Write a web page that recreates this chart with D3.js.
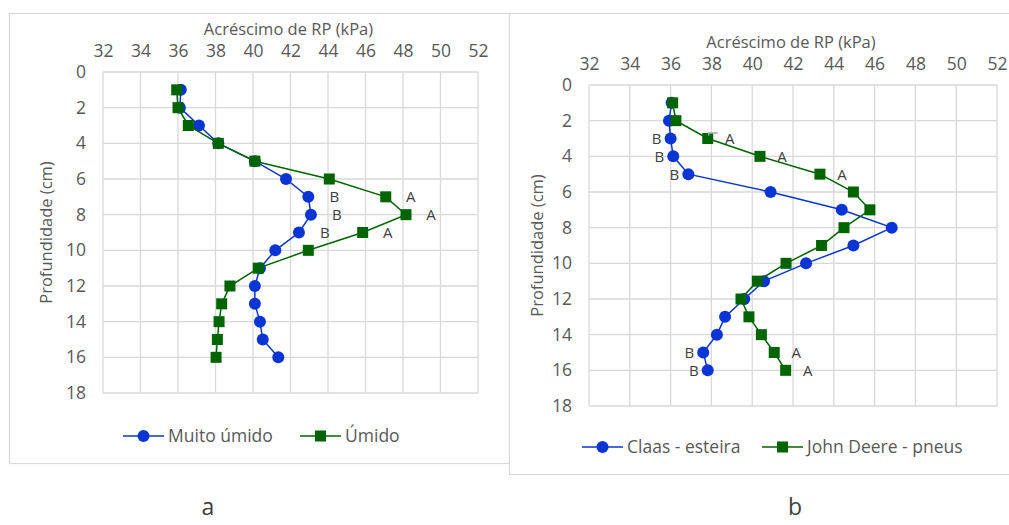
<!DOCTYPE html>
<html>
<head>
<meta charset="utf-8">
<script src="https://cdn.jsdelivr.net/npm/d3@7"></script>
<style>
  html, body { margin: 0; padding: 0; background: #fff; }
  svg { display: block; }
  text { font-family: "Open Sans", "Noto Sans", sans-serif; }
</style>
</head>
<body>
<svg id="chart" width="1009" height="525"></svg>
<script>
// Depths (cm) sampled in both profiles
const depths = [1, 2, 3, 4, 5, 6, 7, 8, 9, 10, 11, 12, 13, 14, 15, 16];

// Panel a: soil moisture condition
const muitoUmido = [36.15, 36.1, 37.12, 38.15, 40.1, 41.76, 42.95, 43.09, 42.45, 41.19, 40.37, 40.1, 40.1, 40.37, 40.52, 41.35];
const umido      = [35.93, 36.0, 36.55, 38.15, 40.1, 44.07, 47.08, 48.16, 45.85, 42.95, 40.28, 38.77, 38.33, 38.19, 38.1, 38.03];

// Panel b: machine type
const claasEsteira = [36.05, 35.92, 36.0, 36.13, 36.87, 40.9, 44.39, 46.84, 44.96, 42.64, 40.58, 39.61, 38.67, 38.27, 37.6, 37.82];
const johnDeere    = [36.1, 36.26, 37.82, 40.38, 43.32, 44.96, 45.77, 44.5, 43.4, 41.66, 40.25, 39.45, 39.84, 40.45, 41.08, 41.64];

// Significance letters (depth, letter)
const lettersMuito = [[7, "B"], [8, "B"], [9, "B"]];
const lettersUmido = [[7, "A"], [8, "A"], [9, "A"]];
const lettersClaas = [[3, "B"], [4, "B"], [5, "B"], [15, "B"], [16, "B"]];
const lettersJD    = [[3, "A"], [4, "A"], [5, "A"], [15, "A"], [16, "A"]];

// Axis ticks
const xTicks = [32, 34, 36, 38, 40, 42, 44, 46, 48, 50, 52];
const yTicks = [0, 2, 4, 6, 8, 10, 12, 14, 16, 18];

const xTitle = "Acréscimo de RP  (kPa)";
const yTitle = "Profundidade (cm)";

const BLUE = "#0a35d4";
const GREEN = "#006400";
const GRID = "#d9d9d9";
const TEXT = "#595959";

const svg = d3.select("#chart");

function drawPanel(cfg) {
  const g = svg.append("g");

  // Chart frame
  g.append("rect")
    .attr("x", cfg.box[0] + 0.5).attr("y", cfg.box[1] + 0.5)
    .attr("width", cfg.box[2]).attr("height", cfg.box[3])
    .attr("fill", "none").attr("stroke", GRID).attr("stroke-width", 1.2);

  const x = d3.scaleLinear().domain([32, 52]).range([cfg.left, cfg.right]);
  const y = d3.scaleLinear().domain([0, 18]).range([cfg.top, cfg.bottom]);

  // Gridlines
  g.append("g").selectAll("line").data(xTicks).join("line")
    .attr("x1", d => x(d)).attr("x2", d => x(d))
    .attr("y1", cfg.top).attr("y2", cfg.bottom)
    .attr("stroke", GRID).attr("stroke-width", 1.3);
  g.append("g").selectAll("line").data(yTicks).join("line")
    .attr("x1", cfg.left).attr("x2", cfg.right)
    .attr("y1", d => y(d)).attr("y2", d => y(d))
    .attr("stroke", GRID).attr("stroke-width", 1.3);

  // Top x axis (labels only)
  const xAxis = g.append("g")
    .attr("transform", `translate(0,${cfg.top - 15})`)
    .call(d3.axisTop(x).tickValues(xTicks).tickSize(0).tickPadding(0));
  xAxis.select(".domain").remove();
  xAxis.selectAll("text").attr("fill", TEXT).style("font-size", "17.5px")
    .style("font-family", "'Open Sans', sans-serif");

  // Left y axis (labels only)
  const yAxis = g.append("g")
    .attr("transform", `translate(${cfg.left - 17},0)`)
    .call(d3.axisLeft(y).tickValues(yTicks).tickSize(0).tickPadding(0));
  yAxis.select(".domain").remove();
  yAxis.selectAll("text").attr("fill", TEXT).style("font-size", "17.5px")
    .style("font-family", "'Open Sans', sans-serif");

  // Axis titles
  g.append("text")
    .attr("x", (cfg.left + cfg.right) / 2 - 2).attr("y", cfg.top - 37)
    .attr("text-anchor", "middle").attr("fill", TEXT)
    .style("font-size", "16.5px").text(xTitle);
  g.append("text")
    .attr("transform", `translate(${cfg.yTitleX},${(cfg.top + cfg.bottom) / 2}) rotate(-90)`)
    .attr("text-anchor", "middle").attr("dy", "0.35em").attr("fill", TEXT)
    .style("font-size", "16.5px").text(yTitle);

  const line = d3.line().x(d => x(d[1])).y(d => y(d[0]));

  cfg.series.forEach(s => {
    const pts = depths.map((d, i) => [d, s.values[i]]);
    g.append("path").datum(pts)
      .attr("d", line).attr("fill", "none")
      .attr("stroke", s.color).attr("stroke-width", 1.5);
    if (s.shape === "circle") {
      g.append("g").selectAll("circle").data(pts).join("circle")
        .attr("cx", d => x(d[1])).attr("cy", d => y(d[0])).attr("r", 6)
        .attr("fill", s.color);
    } else {
      g.append("g").selectAll("rect").data(pts).join("rect")
        .attr("x", d => x(d[1]) - 5.5).attr("y", d => y(d[0]) - 5.5)
        .attr("width", 11).attr("height", 11)
        .attr("fill", s.color);
    }
    // Significance letters
    const valueAt = dep => s.values[depths.indexOf(dep)];
    g.append("g").selectAll("text").data(s.letters).join("text")
      .attr("x", d => x(valueAt(d[0])) + s.labelDx)
      .attr("y", d => y(d[0]))
      .attr("dy", "0.36em")
      .attr("text-anchor", "middle")
      .attr("fill", "#404040").style("font-size", "15px")
      .text(d => d[1]);
  });

  // Legend
  cfg.legend.forEach(L => {
    const s = cfg.series[L.idx];
    g.append("line").attr("x1", L.x).attr("x2", L.x + 41)
      .attr("y1", cfg.legendY).attr("y2", cfg.legendY)
      .attr("stroke", s.color).attr("stroke-width", 1.5);
    if (s.shape === "circle") {
      g.append("circle").attr("cx", L.x + 20.5).attr("cy", cfg.legendY).attr("r", 6).attr("fill", s.color);
    } else {
      g.append("rect").attr("x", L.x + 15).attr("y", cfg.legendY - 5.5)
        .attr("width", 11).attr("height", 11).attr("fill", s.color);
    }
    g.append("text").attr("x", L.x + 45).attr("y", cfg.legendY).attr("dy", "0.36em")
      .attr("fill", TEXT).style("font-size", "17.5px").text(s.name);
  });

  return { g, x, y };
}

drawPanel({
  box: [9, 13, 500, 450],
  left: 103, right: 478, top: 72, bottom: 393,
  yTitleX: 46,
  legendY: 436,
  series: [
    { name: "Muito úmido", values: muitoUmido, color: BLUE, shape: "circle", letters: lettersMuito, labelDx: 26 },
    { name: "Úmido", values: umido, color: GREEN, shape: "square", letters: lettersUmido, labelDx: 25 }
  ],
  legend: [{ idx: 0, x: 123 }, { idx: 1, x: 300 }]
});

const pb = drawPanel({
  box: [509, 13, 510, 461],
  left: 589, right: 997, top: 85, bottom: 406,
  yTitleX: 537,
  legendY: 447,
  series: [
    { name: "Claas - esteira", values: claasEsteira, color: BLUE, shape: "circle", letters: lettersClaas, labelDx: -14 },
    { name: "John Deere - pneus", values: johnDeere, color: GREEN, shape: "square", letters: lettersJD, labelDx: 22 }
  ],
  legend: [{ idx: 0, x: 582 }, { idx: 1, x: 762 }]
});

// Leader line of the first letter beside the green profile
{
  const lx = pb.x(johnDeere[2]), ly = pb.y(3);
  pb.g.append("path")
    .attr("d", `M${lx + 1},${ly - 3} V${ly - 5.5} H${lx + 10}`)
    .attr("fill", "none").attr("stroke", "#a6a6a6").attr("stroke-width", 1.5);
}

// Panel captions
svg.append("text").attr("x", 208).attr("y", 515).attr("text-anchor", "middle")
  .attr("fill", "#404040").style("font-size", "23px").text("a");
svg.append("text").attr("x", 795).attr("y", 515).attr("text-anchor", "middle")
  .attr("fill", "#404040").style("font-size", "23px").text("b");
</script>
</body>
</html>
